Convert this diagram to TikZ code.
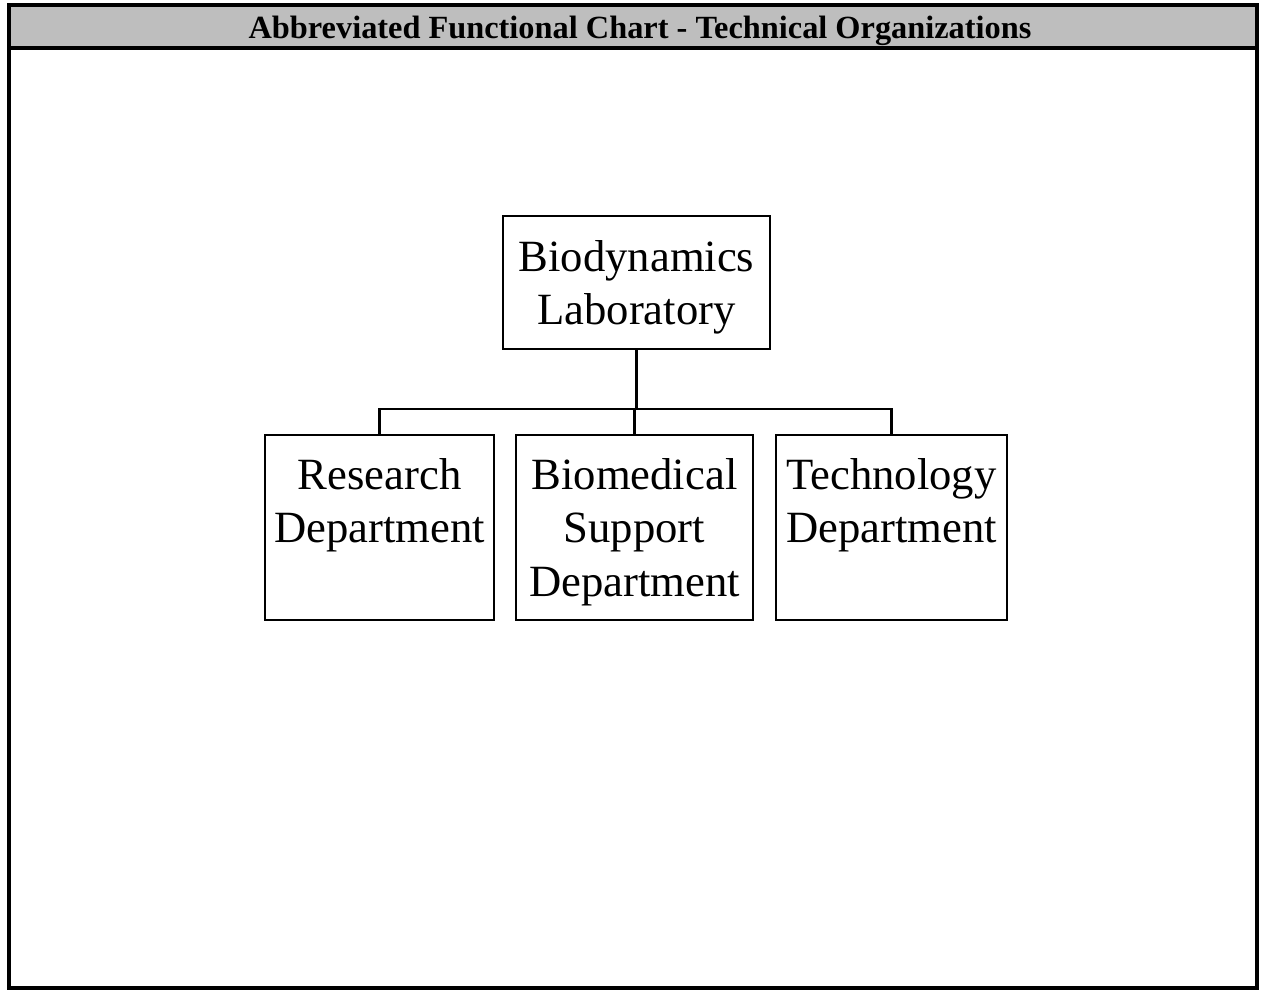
\documentclass[tikz,border=0pt]{standalone}
\usepackage{fontspec}
\setmainfont{Liberation Serif}
\usepackage{tikz}
\definecolor{chartBarGray}{HTML}{BEBEBE}

\tikzset{
  unitbox/.style={draw, line width=0.6pt, align=center, inner sep=0pt,
    text depth=-0.06cm, font=\fontsize{12.7}{15.3}\selectfont},
  deptbox/.style={unitbox, minimum height=1.85cm, text depth=-0.12cm},
  linkline/.style={line width=0.6pt},
}

\begin{document}
\begin{tikzpicture}[x=0.01cm, y=-0.01cm]
            \useasboundingbox (0,0) rectangle (1262,992);
            % frame and title bar
            \fill[chartBarGray] (9,7) rectangle (1257,47);
            \draw[line width=1.2pt] (9,5) rectangle (1257,988);
            \draw[line width=1pt] (9,48) -- (1257,48);
            \node (title) at (640,31) {\fontsize{9.2}{11}\selectfont\bfseries Abbreviated Functional Chart - Technical Organizations};
            % units
            \node[unitbox, minimum width=2.67cm, minimum height=1.33cm] (lab) at (636.5,282.5) {Biodynamics\\Laboratory};
            \node[deptbox, minimum width=2.29cm] (res) at (379.5,527.5) {Research\\Department\\\vphantom{p}};
            \node[deptbox, minimum width=2.37cm] (bio) at (634.5,527.5) {Biomedical\\Support\\Department};
            \node[deptbox, minimum width=2.31cm] (tech) at (891.5,527.5) {Technology\\Department\\\vphantom{p}};
            % connectors
            \draw[linkline] (res.north) -- ++(0,-25) coordinate (bus) -| (tech.north);
            \draw[linkline] (lab.south) -- (lab.south |- bus);
            \draw[linkline] (bio.north) -- (bio.north |- bus);
        \end{tikzpicture}
\end{document}
